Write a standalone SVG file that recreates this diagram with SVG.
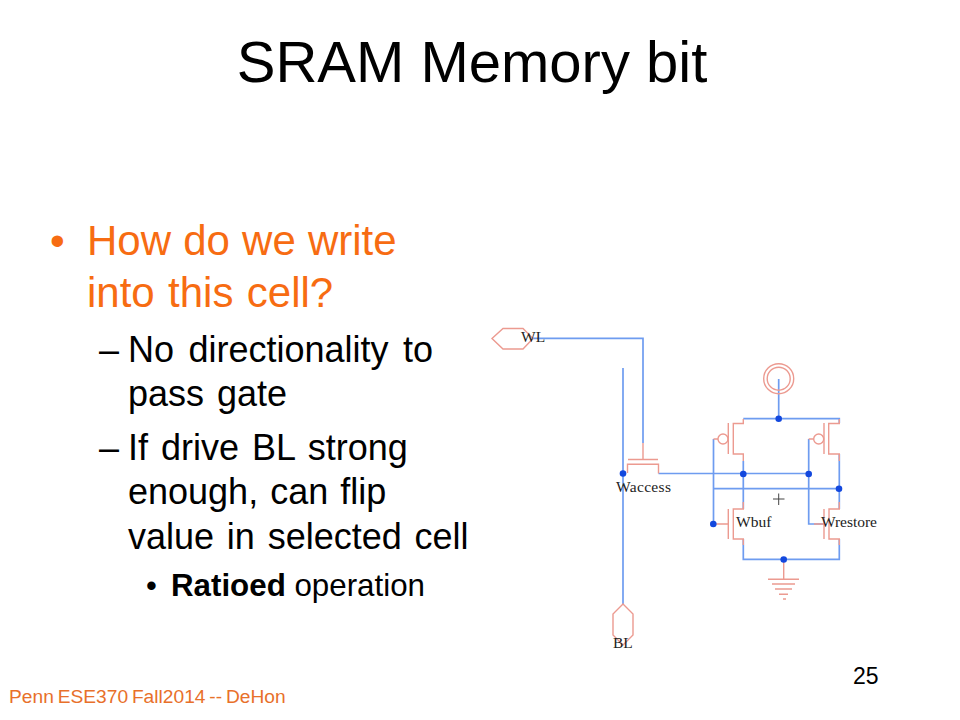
<svg xmlns="http://www.w3.org/2000/svg" width="960" height="720" viewBox="0 0 960 720">
<style>
text{font-family:"Liberation Sans",Arial,sans-serif;fill:#000}
.o{fill:#f76c12}
.l1{font-size:42px}
.l2{font-size:36px}
.s{font-family:"Liberation Serif","Times New Roman",serif;font-size:15.500px;fill:#222}
.w{fill:none;stroke:#6e9cf0;stroke-width:1.700}
.p{fill:none;stroke:#ec9a90;stroke-width:1.400}
.d{fill:#1348de}
</style>
<rect width="960" height="720" fill="#fff"/>
<text x="472" y="82" font-size="58" text-anchor="middle">SRAM Memory bit</text>
<g id="bullets">
<text x="50" y="254.500" class="l1 o">•</text>
<text x="87" y="254.500" class="l1 o" word-spacing="0.500">How do we write</text>
<text x="87" y="307" class="l1 o" word-spacing="1.700">into this cell?</text>
<text x="99" y="362" class="l2">–</text>
<text x="128" y="362" class="l2" word-spacing="4.500">No directionality to</text>
<text x="128" y="406" class="l2" word-spacing="3">pass gate</text>
<text x="99" y="460" class="l2">–</text>
<text x="128" y="460" class="l2" word-spacing="3">If drive BL strong</text>
<text x="128" y="504" class="l2" word-spacing="2">enough, can flip</text>
<text x="128" y="549" class="l2" word-spacing="2.800">value in selected cell</text>
<text x="146" y="596" font-size="31">•</text>
<text x="171" y="596" font-size="31.300"><tspan font-weight="bold">Ratioed</tspan> operation</text>
</g>
<text id="footer" x="9" y="703" font-size="19.200" word-spacing="-1.500" style="fill:#e8702a">Penn ESE370 Fall2014 -- DeHon</text>
<text id="page" x="853" y="684" font-size="23">25</text>
<g id="connectors">
<path class="w" d="M533 338.300H643V443"/>
<path class="w" d="M623 368V604"/>
<path class="w" d="M658.500 473.500H808.700M808.700 439V524H824"/>
<path class="w" d="M778.700 379V418.700M743.300 418.700H839.300V423"/>
<path class="w" d="M743.300 461V509"/>
<path class="w" d="M839.300 454V509"/>
<path class="w" d="M713.500 439V524"/>
<path class="w" d="M713.500 488.700H839.300"/>
<path class="w" d="M743.300 539V559.300H839.300V539"/>
</g>
<g id="WL-pin"><path class="p" d="M492 338.500 503 328.500H523L533 338.500 523 349H503Z"/><text class="s" x="521" y="342">WL</text></g>
<g id="BL-pin"><path class="p" d="M623 604 613 614V635L623 645 633 635V614Z"/><text class="s" x="613" y="648">BL</text></g>
<g id="Waccess"><path class="p" d="M643 443V459.500M628 459.500H658M627.500 473V464.300H658.500V473.500"/><text class="s" x="616" y="492" textLength="55">Waccess</text></g>
<g id="vdd"><circle class="p" cx="778.700" cy="378.700" r="15"/><circle class="p" cx="778.700" cy="378.700" r="11.500"/></g>
<g id="pmos-left"><path class="p" d="M743.300 419V423.500H733.300V454H743.300V461M728.300 423V454M718 439H713.500"/><circle class="p" cx="723" cy="439" r="5"/></g>
<g id="pmos-right"><path class="p" d="M839.300 419V423.500H828.700V454H839.300V461M824 423V454M813.700 439H808.700"/><circle class="p" cx="818.700" cy="439" r="5"/></g>
<g id="Wbuf"><path class="p" d="M743.300 502V509H733.300V539H743.300V545M728.300 509V539M713.500 524H728.300"/><text class="s" x="736" y="527">Wbuf</text></g>
<g id="Wrestore"><path class="p" d="M839.300 502V509H829V539H839.300V545M824 509V539M814 524H824"/><text class="s" x="821" y="527" textLength="56">Wrestore</text></g>
<g id="gnd"><path class="p" d="M783.700 559.300V579M768 579.300H799M772 584H795M775 589H792M779 594.300H788M783 599H786"/></g>
<g id="dots">
<circle class="d" cx="623" cy="473.500" r="3.300"/>
<circle class="d" cx="778.700" cy="418.700" r="3.300"/>
<circle class="d" cx="743.300" cy="474" r="3.300"/>
<circle class="d" cx="808.700" cy="474" r="3.300"/>
<circle class="d" cx="839" cy="488.700" r="3.300"/>
<circle class="d" cx="713.300" cy="524" r="3.300"/>
<circle class="d" cx="783.700" cy="559.500" r="3.300"/>
</g>
<path id="plus" d="M773 499H784.500M778.700 493.500V505" fill="none" stroke="#444" stroke-width="1"/>
</svg>
